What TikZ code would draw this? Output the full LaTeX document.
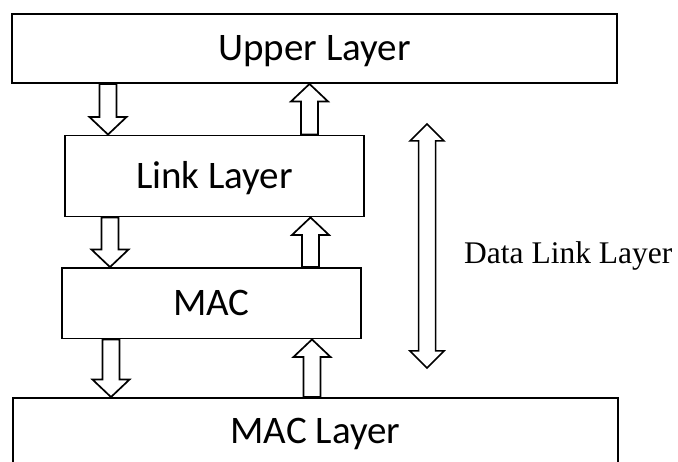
\documentclass[tikz,border=0pt]{standalone}
\usepackage{fontspec}
\newfontfamily\boxfont{Carlito}
\newfontfamily\labelfont{Liberation Serif}
\usetikzlibrary{calc}

\tikzset{
  layerbox/.style={draw, line width=1.9pt, rectangle, inner sep=0pt,
    font=\boxfont\fontsize{39}{47}\selectfont,
    text height=25pt, text depth=0pt},
  % hollow block arrow along a vertical line, tip at the target
  blockarrow/.style={draw, line width=1.7pt, line join=miter, fill=white,
    to path={let \p1=(\tikztostart), \p2=(\tikztotarget),
      \n1={17.5*sign(\y2-\y1)} in
      (\x1-8.5pt,\y1) -- (\x1-8.5pt,\y2-\n1*1pt) -- (\x1-18.5pt,\y2-\n1*1pt)
      -- (\x1,\y2) -- (\x1+18.5pt,\y2-\n1*1pt) -- (\x1+8.5pt,\y2-\n1*1pt)
      -- (\x1+8.5pt,\y1) -- cycle}},
  % hollow double-headed block arrow
  dblarrow/.style={draw, line width=1.5pt, line join=miter, fill=white,
    to path={let \p1=(\tikztostart), \p2=(\tikztotarget) in
      (\x1,\y1) -- (\x1+17pt,\y1-17pt) -- (\x1+8.5pt,\y1-17pt)
      -- (\x1+8.5pt,\y2+17pt) -- (\x1+17pt,\y2+17pt) -- (\x2,\y2)
      -- (\x1-17pt,\y2+17pt) -- (\x1-8.5pt,\y2+17pt)
      -- (\x1-8.5pt,\y1-17pt) -- (\x1-17pt,\y1-17pt) -- cycle}}
}

\begin{document}
\begin{tikzpicture}[x=1pt, y=-1pt]
  \useasboundingbox (0,0) rectangle (678,462);
  \clip (0,0) rectangle (678,462);

  % protocol layers
  \node[layerbox, minimum width=605pt, minimum height=69pt] (upper) at (314.5,48.5) {Upper Layer};
  \node[layerbox, minimum width=299pt, minimum height=81pt] (link)  at (214.5,176) {Link Layer};
  \node[layerbox, minimum width=299pt, minimum height=70.5pt] (mac) at (211.5,303.25) {MAC};
  \node[layerbox, minimum width=605pt, minimum height=65pt] (maclayer) at (315.5,430.5) {MAC Layer};

  % columns of the downward and upward flows
  \coordinate (dn1) at (108,0);
  \coordinate (up1) at (309.5,0);
  \coordinate (dn2) at (110,0);
  \coordinate (up2) at (310.5,0);
  \coordinate (dn3) at (111,0);
  \coordinate (up3) at (312,0);

  \draw[blockarrow] (dn1 |- upper.south) to (dn1 |- link.north);
  \draw[blockarrow] (up1 |- link.north) to (up1 |- upper.south);
  \draw[blockarrow] (dn2 |- link.south) to (dn2 |- mac.north);
  \draw[blockarrow] (up2 |- mac.north) to (up2 |- link.south);
  \draw[blockarrow] (dn3 |- mac.south) to (dn3 |- maclayer.north);
  \draw[blockarrow] (up3 |- maclayer.north) to (up3 |- mac.south);

  % span of the data link layer
  \coordinate (dltop) at (427,124);
  \coordinate (dlbot) at (427,368);
  \draw[dblarrow] (dltop) to (dlbot);
  \node[font=\labelfont\fontsize{31.5}{38}\selectfont, inner sep=0pt, anchor=base west]
    (dllabel) at (464,264) {Data Link Layer};
\end{tikzpicture}
\end{document}
